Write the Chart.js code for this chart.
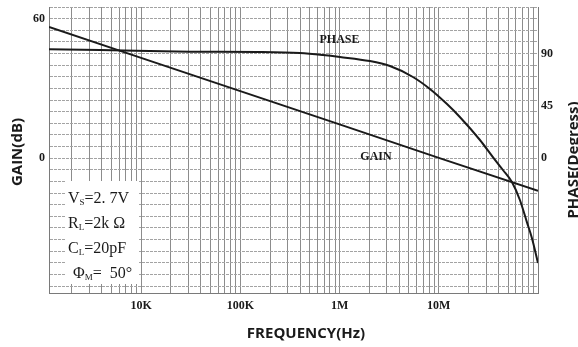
<!DOCTYPE html>
<html>
<head>
<meta charset="utf-8">
<script src="https://cdn.jsdelivr.net/npm/chart.js@4.4.1/dist/chart.umd.min.js"></script>
<style>
  html, body { margin: 0; padding: 0; background: #fff; }
  canvas { display: block; }
</style>
</head>
<body>
<canvas id="c" width="578" height="347"></canvas>
<script>
// Open-loop gain and phase versus frequency
const gainFreq = [1180, 1e4, 1e5, 1e6, 1e7, 1e8];
const gainDb = [56.4, 43.1, 28.8, 14.5, 0.1, -14.1];

const phaseFreq = [1180, 3855, 31100, 147000, 399000, 680000, 1.01e6, 2.02e6, 3.22e6,
  5.49e6, 8.14e6, 1.21e7, 1.63e7, 2.6e7, 3.51e7, 4.43e7, 5.46e7, 6.57e7, 7.73e7, 8.68e7, 1e8];
const phaseDeg = [93.6, 93.0, 91.6, 91.3, 90.4, 88.7, 87.0, 83.5, 79.2,
  69.8, 59.5, 46.5, 35.4, 15.6, 0.9, -10.2, -20.6, -36.0, -55.0, -68.7, -90.2];

const freqTickValues = [1e4, 1e5, 1e6, 1e7];
const freqTickLabels = ['10K', '100K', '1M', '10M'];
const gainTickValues = [60, 0];
const phaseTickValues = [90, 45, 0];

// Test conditions: [symbol, subscript, rest]
const conditionLines = [
  ['V', 'S', '=2. 7V'],
  ['R', 'L', '=2k \u03A9'],
  ['C', 'L', '=20pF'],
  ['\u03A6', 'M', '=  50\u00B0']
];

const F_MIN = 1180, F_MAX = 1e8;

// log grid: 1..9 x 10^n inside the frequency range
const freqGrid = [];
for (let e = 3; e <= 8; e++) {
  for (let d = 1; d <= 9; d++) {
    const v = d * Math.pow(10, e);
    if (v > F_MIN && v <= F_MAX) freqGrid.push(v);
  }
}
// 5 dB horizontal grid
const gainGrid = [];
for (let v = -55; v <= 65; v += 5) gainGrid.push(v);

const labelFont = { family: 'Liberation Serif', weight: 'bold', size: 12 };
const ink = '#1a1a1a';

// fixed axis box sizes, no extra label overhang padding
function fixBox(size, horizontal) {
  return function (scale) {
    if (horizontal) scale.height = size; else scale.width = size;
    scale.paddingTop = 0; scale.paddingBottom = 0;
    scale.paddingLeft = 0; scale.paddingRight = 0;
  };
}

const overlay = {
  id: 'overlay',
  beforeDatasetsDraw(chart) {
    const { ctx, chartArea: a } = chart;
    ctx.save();
    // conditions panel over the grid
    ctx.fillStyle = '#fff';
    ctx.fillRect(a.left + 16, a.top + 174, 74, 103);
    ctx.fillStyle = ink;
    ctx.textBaseline = 'alphabetic';
    ctx.textAlign = 'left';
    conditionLines.forEach((p, i) => {
      const y = a.top + 196 + i * 25;
      let x = a.left + 19 + (i === 3 ? 5 : 0);
      ctx.font = '16px "Liberation Serif"';
      ctx.fillText(p[0], x, y);
      x += ctx.measureText(p[0]).width;
      ctx.font = '9px "Liberation Serif"';
      ctx.fillText(p[1], x, y + 2);
      x += ctx.measureText(p[1]).width;
      ctx.font = '16px "Liberation Serif"';
      ctx.fillText(p[2], x, y);
    });
    ctx.restore();
  },
  afterDraw(chart) {
    const { ctx, scales } = chart;
    ctx.save();
    ctx.fillStyle = ink;
    ctx.textAlign = 'center';
    ctx.textBaseline = 'middle';
    // curve names
    ctx.font = 'bold 12px "Liberation Serif"';
    ctx.fillText('PHASE', scales.x.getPixelForValue(1e6), scales.y.getPixelForValue(51));
    ctx.fillText('GAIN', scales.x.getPixelForValue(2.33e6), scales.y.getPixelForValue(0.5));
    // axis titles
    ctx.font = 'bold 15px "Open Sans"';
    ctx.fillText('FREQUENCY(Hz)', 306, 334);
    ctx.save();
    ctx.translate(18, 152);
    ctx.rotate(-Math.PI / 2);
    ctx.fillText('GAIN(dB)', 0, 0);
    ctx.restore();
    ctx.save();
    ctx.translate(574, 160);
    ctx.rotate(-Math.PI / 2);
    ctx.fillText('PHASE(Degress)', 0, 0);
    ctx.restore();
    ctx.restore();
  }
};

new Chart(document.getElementById('c'), {
  type: 'line',
  data: {
    datasets: [
      {
        label: 'GAIN',
        data: gainFreq.map((f, i) => ({ x: f, y: gainDb[i] })),
        yAxisID: 'y',
        borderColor: ink,
        borderWidth: 2,
        pointRadius: 0,
        tension: 0,
        fill: false
      },
      {
        label: 'PHASE',
        data: phaseFreq.map((f, i) => ({ x: f, y: phaseDeg[i] })),
        yAxisID: 'y2',
        borderColor: ink,
        borderWidth: 2,
        pointRadius: 0,
        cubicInterpolationMode: 'monotone',
        fill: false
      }
    ]
  },
  options: {
    responsive: false,
    animation: false,
    events: [],
    layout: { padding: { top: 7, left: 0, right: 0, bottom: 0 } },
    plugins: { legend: { display: false }, tooltip: { enabled: false } },
    scales: {
      x: {
        type: 'logarithmic',
        min: F_MIN,
        max: F_MAX,
        afterBuildTicks(scale) { scale.ticks = freqGrid.map(v => ({ value: v })); },
        afterFit: fixBox(54, true),
        ticks: {
          autoSkip: false,
          maxRotation: 0,
          padding: 6,
          color: ink,
          font: labelFont,
          callback(value) {
            const i = freqTickValues.findIndex(t => Math.abs(t - value) < 1e-6 * t);
            return i >= 0 ? freqTickLabels[i] : '';
          }
        },
        grid: { color: '#8c8c8c', lineWidth: 1, drawTicks: false },
        border: { color: '#7a7a7a' }
      },
      y: {
        position: 'left',
        min: -58,
        max: 65,
        afterBuildTicks(scale) { scale.ticks = gainGrid.map(v => ({ value: v })); },
        afterFit: fixBox(49, false),
        ticks: {
          autoSkip: false,
          padding: 4,
          color: ink,
          font: labelFont,
          callback: v => (gainTickValues.includes(v) ? String(v) : '')
        },
        grid: { color: '#a3a3a3', lineWidth: 1, drawTicks: false },
        border: { color: '#7a7a7a', dash: [3, 1] }
      },
      y2: {
        position: 'right',
        min: -116,
        max: 130,
        afterBuildTicks(scale) { scale.ticks = phaseTickValues.map(v => ({ value: v })); },
        afterFit: fixBox(40, false),
        ticks: {
          autoSkip: false,
          padding: 3,
          color: ink,
          font: labelFont,
          callback: v => String(v)
        },
        grid: { drawOnChartArea: false, drawTicks: false },
        border: { color: '#7a7a7a' }
      }
    }
  },
  plugins: [overlay]
});
</script>
</body>
</html>
